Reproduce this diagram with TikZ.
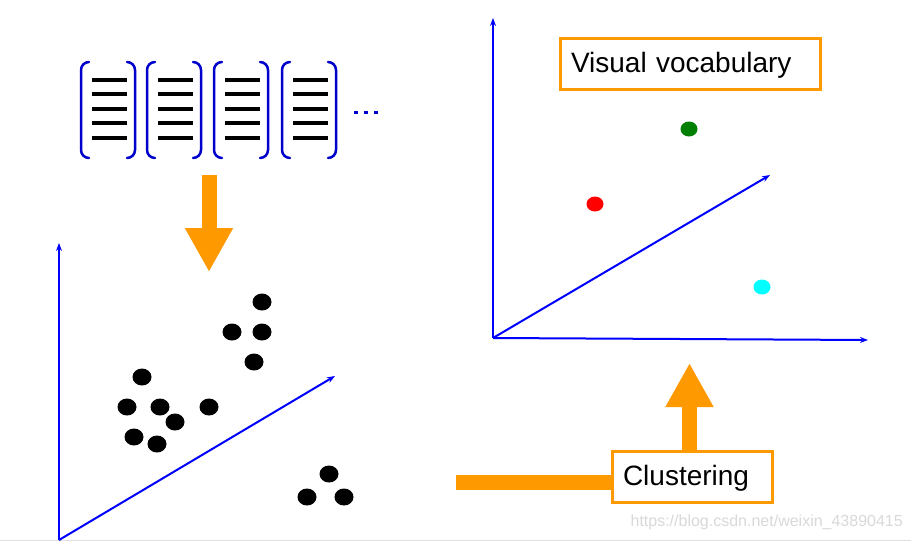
\documentclass[tikz,border=0pt]{standalone}
\usepackage{fontspec}
\setmainfont{Liberation Sans}
\usetikzlibrary{arrows.meta}
\definecolor{orng}{RGB}{255,153,0}
\definecolor{brkblue}{RGB}{0,0,204}
\definecolor{axblue}{RGB}{0,0,255}
\definecolor{dgreen}{RGB}{0,128,0}
\definecolor{pcyan}{RGB}{0,255,255}
\definecolor{pred}{RGB}{255,0,0}
\tikzset{
  brk/.style={draw=brkblue, line width=2.5pt, line cap=round},
  txtline/.style={draw=black, line width=4pt},
  axis/.style={draw=axblue, line width=2pt, -{Stealth[length=8pt,width=6pt]}},
  dot/.style={fill=black, draw=none},
  lbl/.style={draw=orng, line width=3pt, fill=white, font=\fontsize{28}{32}\selectfont, inner xsep=11pt, inner ysep=0pt, minimum height=51pt, align=left, text height=21pt, text depth=4pt},
  bar/.style={draw=orng, line width=15pt},
  bigarrow/.style={draw=orng, line width=15pt, -{Triangle[length=44pt,width=45pt]}},
}
\begin{document}
\begin{tikzpicture}[x=1pt,y=-1pt]
\useasboundingbox (0,0) rectangle (911,541);
\fill[white] (0,0) rectangle (911,541);
\draw[gray!25, line width=1pt] (0,540) -- (911,540);

% documents
\foreach \x in {81,147,214,282}{
  \draw[brk] (\x+8,62) to[out=180,in=90] (\x,70) -- (\x,150) to[out=-90,in=180] (\x+8,158);
  \draw[brk] (\x+46,62) to[out=0,in=90] (\x+54,70) -- (\x+54,150) to[out=-90,in=0] (\x+46,158);
  \foreach \y in {80,94,109,123,138}{
    \draw[txtline] (\x+11,\y) -- (\x+46,\y);
  }
}
\foreach \x in {356,366,376}{\fill[brkblue] (\x-1.6,110.5) rectangle (\x+1.6,113.5);}

% arrow docs -> features
\coordinate (docs) at (209,175);
\coordinate (feat) at (209,272);
\draw[bigarrow] (docs) -- (feat);

% left plot
\coordinate (lo) at (59,540);
\coordinate (ly) at (59,243);
\coordinate (ld) at (335,376);
\draw[axis] (lo) -- (ly);
\draw[axis] (lo) -- (ld);
\foreach \p in {(262,302),(232,332),(262,332),(254,362),(142,377),(127,407),(160,407),(175,422),(209,407),(134,437),(157,444),(329,474),(307,497),(344,497)}{
  \fill[dot] \p ellipse [x radius=9.5, y radius=8.5];
}

% right plot
\coordinate (ro) at (493,338);
\coordinate (ry) at (493,18);
\coordinate (rx) at (868,340);
\coordinate (rd) at (770,175);
\draw[axis] (ro) -- (ry);
\draw[axis] (ro) -- (rx);
\draw[axis] (ro) -- (rd);
\fill[dgreen] (689,129) ellipse [x radius=8.5, y radius=7.5];
\fill[pred] (595,204) ellipse [x radius=8.5, y radius=7.5];
\fill[pcyan] (762,287) ellipse [x radius=8.5, y radius=7.5];

\node[lbl, text width=238pt, minimum width=260pt] (vv) at (690,63.5) {Visual vocabulary};

% clustering
\node[lbl, text width=138pt, minimum width=160pt] (clus) at (692,476.5) {Clustering};
\coordinate (barstart) at (456,482.5);
\draw[bar] (barstart) -- (barstart -| clus.west);
\coordinate (uptip) at (689.5,363);
\draw[bigarrow] (clus.north -| uptip) -- (uptip);

\node[text=gray!30, font=\fontsize{16}{18}\selectfont, anchor=east, inner sep=0pt] (wm) at (903,522) {https://blog.csdn.net/weixin\_43890415};
\end{tikzpicture}
\end{document}
